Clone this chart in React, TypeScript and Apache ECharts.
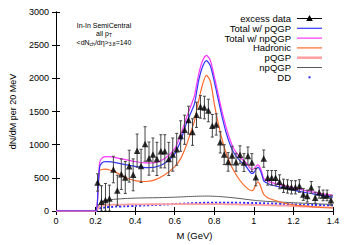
import React, { useEffect, useRef } from "react";
import * as echarts from "echarts";

// ---- data ----
const xTickLabels = ["0", "0.2", "0.4", "0.6", "0.8", "1", "1.2", "1.4"];
const yTickLabels = ["0", "500", "1000", "1500", "2000", "2500", "3000"];

const dataMass = [
  0.21, 0.23, 0.25, 0.27, 0.29, 0.31, 0.33, 0.35, 0.37, 0.39,
  0.41, 0.43, 0.45, 0.47, 0.49, 0.51, 0.53, 0.55, 0.57, 0.59,
  0.61, 0.63, 0.65, 0.67, 0.69, 0.71, 0.73, 0.75, 0.77, 0.79,
  0.81, 0.83, 0.85, 0.87, 0.89, 0.91, 0.93, 0.95, 0.97, 0.99,
  1.01, 1.05, 1.07, 1.09, 1.11, 1.13, 1.15, 1.17, 1.19, 1.21,
  1.23, 1.25, 1.27, 1.29, 1.31, 1.33, 1.35, 1.37, 1.39,
];
const dataValue = [
  430, 140, 165, 190, 625, 310, 555, 505, 676, 545,
  910, 680, 1010, 790, 850, 785, 900, 900, 785, 850,
  930, 1130, 1225, 1370, 1190, 1450, 1570, 1560, 1515, 1285,
  1305, 1035, 850, 740, 835, 735, 848, 730, 830, 730,
  510, 790, 500, 500, 500, 440, 380, 370, 357, 357,
  377, 250, 225, 355, 200, 280, 235, 235, 162,
];
const dataError = [
  130, 240, 250, 200, 200, 230, 230, 240, 240, 240,
  250, 250, 260, 250, 250, 250, 250, 250, 250, 250,
  240, 230, 220, 210, 200, 190, 170, 170, 170, 170,
  160, 160, 150, 140, 140, 135, 135, 135, 135, 135,
  130, 130, 110, 110, 110, 105, 100, 100, 100, 100,
  95, 90, 90, 90, 85, 85, 80, 80, 75,
];

const curveMass = [
  0, 0.2, 0.212, 0.22, 0.23, 0.25, 0.28, 0.3, 0.35, 0.4, 0.45, 0.5, 0.55, 0.6,
  0.63, 0.66, 0.68, 0.7, 0.72, 0.74, 0.76, 0.78, 0.8, 0.82, 0.84, 0.86, 0.88,
  0.9, 0.93, 0.96, 0.99, 1.0, 1.01, 1.02, 1.03, 1.04, 1.05, 1.07, 1.1, 1.15,
  1.2, 1.25, 1.3, 1.35, 1.4,
];
const totalNpQGP = [
  0, 0, 350, 720, 790, 820, 815, 805, 775, 745, 725, 730, 790, 940,
  1150, 1410, 1570, 1740, 2050, 2260, 2345, 2270, 2030, 1760, 1490, 1260, 1070,
  930, 810, 730, 625, 635, 670, 700, 665, 590, 490, 450, 420, 385,
  350, 315, 285, 258, 235,
];
const totalPQGP = [
  0, 0, 320, 650, 720, 745, 740, 730, 700, 672, 655, 662, 720, 860,
  1060, 1330, 1470, 1620, 1950, 2170, 2268, 2190, 1950, 1680, 1410, 1180, 1000,
  870, 755, 675, 565, 580, 625, 660, 625, 550, 455, 415, 385, 350,
  315, 285, 258, 232, 210,
];
const hadronic = [
  0, 0, 300, 600, 625, 630, 610, 590, 505, 458, 445, 470, 545, 670,
  790, 1000, 1180, 1360, 1650, 1900, 2045, 1960, 1620, 1320, 1070, 870, 720,
  600, 460, 360, 305, 330, 400, 440, 405, 320, 250, 200, 165, 120,
  92, 76, 63, 53, 45,
];
const pQGP = [
  0, 0, 40, 70, 80, 90, 94, 96, 98, 100, 101, 102, 103, 104,
  104, 105, 105, 105, 105, 105, 105, 104, 104, 103, 103, 102, 101,
  100, 98, 96, 94, 93, 93, 92, 92, 91, 90, 88, 85, 80,
  74, 68, 62, 56, 50,
];
const npQGP = [
  0, 0, 60, 115, 140, 160, 172, 178, 188, 194, 198, 200, 204, 208,
  212, 216, 219, 221, 223, 224, 225, 224, 222, 219, 215, 210, 204,
  198, 188, 176, 165, 162, 158, 155, 153, 151, 148, 144, 140, 132,
  125, 118, 111, 104, 98,
];
const ddCharm = [
  0, 0, 20, 35, 45, 55, 62, 66, 72, 78, 85, 92, 98, 105,
  109, 113, 116, 118, 120, 122, 123, 124, 125, 125, 125, 125, 125,
  125, 124, 122, 120, 119, 119, 118, 117, 117, 116, 114, 110, 105,
  100, 96, 92, 88, 85,
];

const legendNames = [
  "excess data",
  "Total w/ pQGP",
  "Total w/ npQGP",
  "Hadronic",
  "pQGP",
  "npQGP",
  "DD",
];

const FONT = "'Liberation Sans', Arial, Helvetica, sans-serif";
const C_BLUE = "#3535ff";
const C_MAG = "#ff35ff";
const C_ORANGE = "#ff6a2a";
const C_PINK = "#ffa0a0";
const C_GRAY = "#5a5a5a";
const C_DD = "#2828ff";

function curve(vals: number[]) {
  return curveMass.map((m, i) => [m, vals[i]]);
}

export default function App() {
  const ref = useRef<HTMLDivElement>(null);

  useEffect(() => {
    document.body.style.margin = "0";
    if (!ref.current) return;
    const chart = echarts.init(ref.current, undefined, { renderer: "svg" });

    const lineSeries = (name: string, vals: number[], color: string, width: number, type: any = "solid", z = 3) => ({
      name,
      type: "line",
      data: curve(vals),
      symbol: "none",
      showSymbol: false,
      smooth: 0.25,
      lineStyle: { color, width, type },
      itemStyle: { color },
      z,
      silent: true,
    });

    const legendX = 291;
    const rowY = (i: number) => 18.5 + i * 9.8;
    const legendColors = ["#000", C_BLUE, C_MAG, C_ORANGE, C_PINK, C_GRAY, C_DD];
    const legendWidths = [1, 1.2, 1.2, 1.2, 2.5, 1, 1];
    const legendGraphics: any[] = [];
    legendNames.forEach((n, i) => {
      legendGraphics.push({
        type: "text",
        x: legendX,
        y: rowY(i),
        style: {
          text: n,
          fontSize: 9.5,
          fontFamily: FONT,
          fill: "#000",
          textAlign: "right",
          textVerticalAlign: "middle",
          align: "right",
          verticalAlign: "middle",
        },
      });
      if (n === "DD") {
        legendGraphics.push({
          type: "rect",
          shape: { x: 308.5, y: rowY(i) - 1, width: 2, height: 2 },
          style: { fill: C_DD },
        });
      } else {
        legendGraphics.push({
          type: "line",
          shape: { x1: 297, y1: rowY(i), x2: 322, y2: rowY(i) },
          style: { stroke: legendColors[i], lineWidth: legendWidths[i] },
        });
      }
      if (i === 0) {
        legendGraphics.push({
          type: "polygon",
          shape: { points: [[309.5, rowY(0) - 3.5], [312.8, rowY(0) + 2.5], [306.2, rowY(0) + 2.5]] },
          style: { fill: "#000" },
        });
      }
    });

    const annot = [
      { text: "In-In SemiCentral", y: 25 },
      { text: "all p{s|T}", y: 33.5 },
      { text: "<dN{s|ch}/dη>{s|3.8}=140", y: 42.5 },
    ].map((a) => ({
      type: "text",
      x: 104,
      y: a.y,
      style: {
        text: a.text,
        fontSize: 7,
        fontFamily: FONT,
        fill: "#000",
        textAlign: "center",
        textVerticalAlign: "middle",
        align: "center",
        verticalAlign: "middle",
        rich: {
          s: { fontSize: 5, fontFamily: FONT, fill: "#000", verticalAlign: "bottom", lineHeight: 5 },
        },
      },
    }));

    const axisCommon = {
      axisLine: { show: true, lineStyle: { color: "#000", width: 1 } },
      axisTick: { show: true, inside: true, length: 4, lineStyle: { color: "#000", width: 1 } },
      splitLine: { show: false },
    };

    chart.setOption({
      animation: false,
      backgroundColor: "#fff",
      grid: { left: 56, right: 17, top: 12, bottom: 29, containLabel: false },
      xAxis: [
        {
          type: "value",
          min: 0,
          max: 1.4,
          interval: 0.2,
          ...axisCommon,
          axisLabel: {
            fontSize: 9,
            fontFamily: FONT,
            color: "#000",
            margin: 5,
            formatter: (v: number) => xTickLabels[Math.round(v / 0.2)] ?? "",
          },
          name: "M (GeV)",
          nameLocation: "middle",
          nameGap: 19,
          nameTextStyle: { fontSize: 9.5, fontFamily: FONT, color: "#000" },
        },
        {
          type: "value",
          position: "top",
          min: 0,
          max: 1.4,
          interval: 0.2,
          ...axisCommon,
          axisLabel: { show: false },
        },
      ],
      yAxis: [
        {
          type: "value",
          min: 0,
          max: 3000,
          interval: 500,
          ...axisCommon,
          axisLabel: {
            fontSize: 9,
            fontFamily: FONT,
            color: "#000",
            margin: 7,
            formatter: (v: number) => yTickLabels[Math.round(v / 500)] ?? "",
          },
          name: "dN/dM per 20 MeV",
          nameLocation: "middle",
          nameGap: 39,
          nameRotate: 90,
          nameTextStyle: { fontSize: 9, fontFamily: FONT, color: "#000" },
        },
        {
          type: "value",
          position: "right",
          min: 0,
          max: 3000,
          interval: 500,
          ...axisCommon,
          axisLabel: { show: false },
        },
      ],
      series: [
        lineSeries("DD", ddCharm, C_DD, 2, [2, 2], 2),
        lineSeries("npQGP", npQGP, C_GRAY, 1, "solid", 2),
        lineSeries("pQGP", pQGP, C_PINK, 1.8, "solid", 2),
        lineSeries("Hadronic", hadronic, C_ORANGE, 1.2, "solid", 3),
        lineSeries("Total w/ npQGP", totalNpQGP, C_MAG, 1.2, "solid", 3),
        lineSeries("Total w/ pQGP", totalPQGP, C_BLUE, 1.2, "solid", 4),
        {
          name: "excess data errors",
          type: "custom",
          z: 5,
          silent: true,
          clip: true,
          data: dataMass.map((m, i) => [m, dataValue[i], dataError[i]]),
          renderItem: (params: any, api: any) => {
            const x = api.value(0);
            const y = api.value(1);
            const e = api.value(2);
            const top = api.coord([x, y + e]);
            const bot = api.coord([x, Math.max(0, y - e)]);
            const cap = 1.5;
            const st = { stroke: "#444", lineWidth: 1 };
            return {
              type: "group",
              children: [
                { type: "line", shape: { x1: top[0], y1: top[1], x2: bot[0], y2: bot[1] }, style: st },
                { type: "line", shape: { x1: top[0] - cap, y1: top[1], x2: top[0] + cap, y2: top[1] }, style: st },
                { type: "line", shape: { x1: bot[0] - cap, y1: bot[1], x2: bot[0] + cap, y2: bot[1] }, style: st },
              ],
            };
          },
        },
        {
          name: "excess data",
          type: "scatter",
          z: 6,
          silent: true,
          symbol: "triangle",
          symbolSize: 6.5,
          itemStyle: { color: "#000" },
          data: dataMass.map((m, i) => [m, dataValue[i]]),
        },
      ],
      graphic: [...legendGraphics, ...annot],
    });

    return () => chart.dispose();
  }, []);

  return <div ref={ref} style={{ width: 350, height: 245 }} />;
}
